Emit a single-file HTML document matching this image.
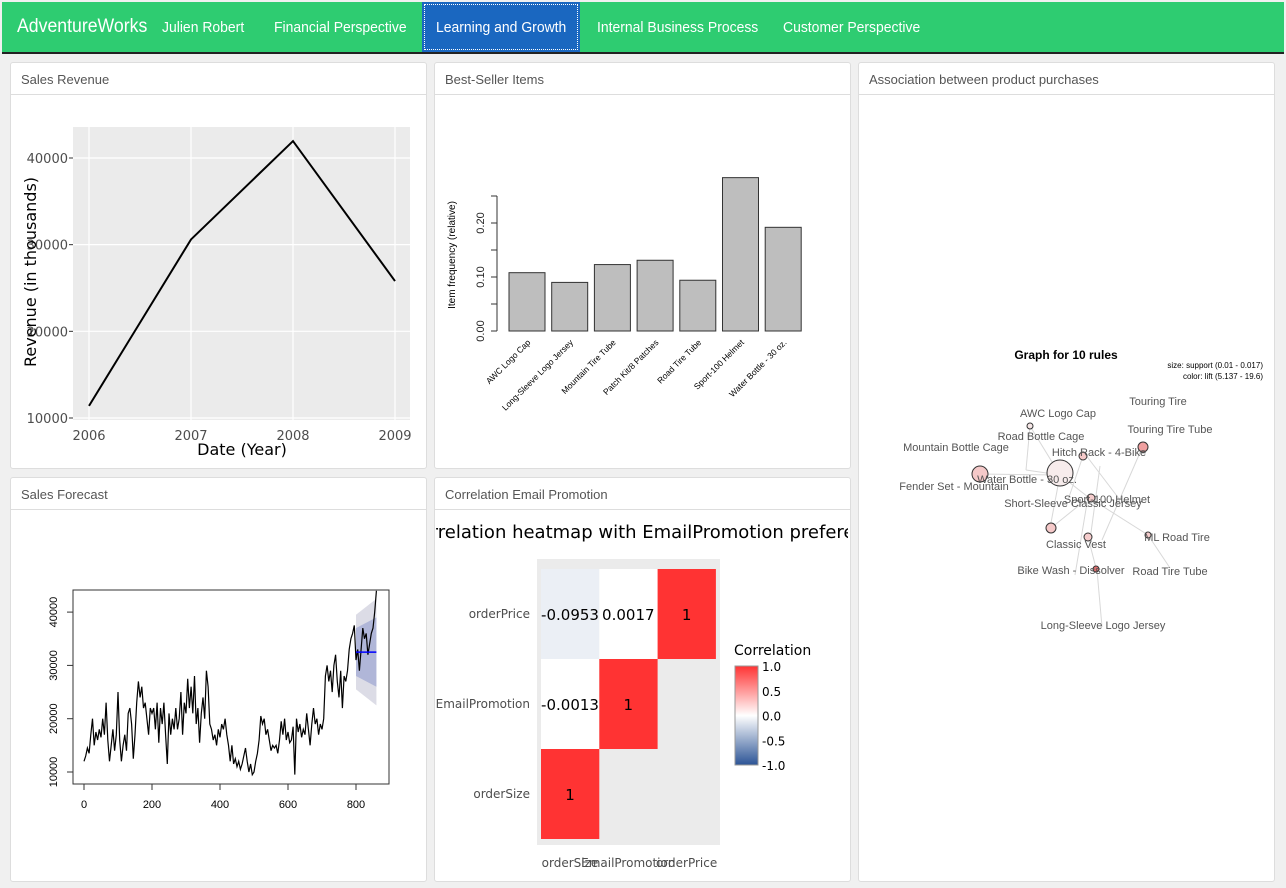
<!DOCTYPE html>
<html><head><meta charset="utf-8">
<style>
body{margin:0;width:1286px;height:888px;background:#f0f0f0;font-family:"Liberation Sans",sans-serif;position:relative;overflow:hidden}
.nav{position:absolute;left:2px;top:2px;width:1282px;height:50px;background:#2ecc71;border-bottom:2px solid #222}
.nav span{position:absolute;top:17px;color:#fff;font-size:15px;transform:scaleX(0.93);transform-origin:left;white-space:nowrap}
.panel{position:absolute;background:#fff;border:1px solid #ddd;border-radius:3px}
.ph{height:31px;border-bottom:1px solid #ddd;font-size:13px;color:#555;line-height:34px;padding-left:10px}
svg{position:absolute;left:0;top:0}
</style></head><body>
<div class="nav">
<span style="left:15px;top:14px;font-size:19px">AdventureWorks</span>
<span style="left:160px">Julien Robert</span>
<span style="left:272px">Financial Perspective</span>
<div style="position:absolute;left:420px;top:0;width:158px;height:50px;background:#1a67c0;outline:1px dotted #fff;outline-offset:-3px"></div>
<span style="left:434px">Learning and Growth</span>
<span style="left:595px">Internal Business Process</span>
<span style="left:781px">Customer Perspective</span>
</div>
<div class="panel" style="left:10px;top:62px;width:415px;height:405px"><div class="ph">Sales Revenue</div></div>
<div class="panel" style="left:434px;top:62px;width:415px;height:405px"><div class="ph">Best-Seller Items</div></div>
<div class="panel" style="left:858px;top:62px;width:415px;height:818px"><div class="ph">Association between product purchases</div></div>
<div class="panel" style="left:10px;top:477px;width:415px;height:403px"><div class="ph">Sales Forecast</div></div>
<div class="panel" style="left:434px;top:477px;width:415px;height:403px;overflow:hidden"><div class="ph">Correlation Email Promotion</div></div>
<svg id="s" width="1286" height="888" font-family="Liberation Sans, sans-serif"><defs><clipPath id="cp"><rect x="436" y="510" width="412" height="369"/></clipPath></defs></svg>
<script>
const revYears=[2006,2007,2008,2009];
const revValues=[11400,30600,41950,25800];
const revTicks=[10000,20000,30000,40000];
const barItems=["AWC Logo Cap","Long-Sleeve Logo Jersey","Mountain Tire Tube","Patch Kit/8 Patches","Road Tire Tube","Sport-100 Helmet","Water Bottle - 30 oz."];
const barValues=[0.108,0.090,0.123,0.131,0.094,0.284,0.192];
const barTickLabels=["0.00","0.10","0.20"];
const tsX=[0,5,10,15,20,25,30,35,40,45,50,55,60,65,70,75,80,85,90,95,100,105,110,115,120,125,130,135,140,145,150,155,160,165,170,175,180,185,190,195,200,205,210,215,220,225,230,235,240,245,250,255,260,265,270,275,280,285,290,295,300,305,310,315,320,325,330,335,340,345,350,355,360,365,370,375,380,385,390,395,400,405,410,415,420,425,430,435,440,445,450,455,460,465,470,475,480,485,490,495,500,505,510,515,520,525,530,535,540,545,550,555,560,565,570,575,580,585,590,595,600,605,610,615,620,625,630,635,640,645,650,655,660,665,670,675,680,685,690,695,700,705,710,715,720,725,730,735,740,745,750,755,760,765,770,775,780,785,790,795,800,805,810,815,820,825,830,835,840,845,850,855,860,865,870];
const tsValues=[12000,13000,14500,13500,17000,20000,15000,17500,16000,18000,16500,20000,17000,23000,16000,12000,15000,18000,14000,17000,25000,16000,12000,15000,17000,14000,21000,22000,19000,12500,17000,23000,27000,24000,26000,22000,23000,20000,17000,22000,21000,22000,18000,23000,15500,22000,19000,23000,17000,11500,21000,17000,20000,18000,22000,18000,20000,25000,17000,23000,21000,27500,22000,26000,21000,28000,19000,22000,15500,21000,24000,20000,29000,26000,19000,18000,16000,17000,15000,18000,16500,19000,18000,20000,17000,15000,12000,15000,11500,12500,11000,12000,10500,11500,13000,14500,12000,10000,11500,9500,10000,12000,13500,16000,20500,19000,20000,17000,18000,16000,14000,15000,14500,15000,13500,16000,19500,17000,20000,16000,17500,15500,16000,18500,9500,20000,17500,19000,16500,18000,17000,21000,18000,15000,19000,22000,19000,20000,17000,19000,18000,20000,28000,30000,27000,29000,25000,30000,32000,27000,24000,29000,22000,28000,27000,29000,33000,35000,36000,37500,31000,33000,29000,33000,37000,35000,36000,32000,34000,36000,37000,40000,44000];
const fcStart=800,fcEnd=860,fcMean=32500,fc80=[26000,39000],fc95=[22500,42500];
const corrVars=["orderSize","EmailPromotion","orderPrice"];
const corrValues=[[1,-0.0013,-0.0953],[-0.0013,1,0.0017],[-0.0953,0.0017,1]];
const corrLabels=[["1","-0.0013","-0.0953"],["-0.0013","1","0.0017"],["-0.0953","0.0017","1"]];
const corrTicks=["1.0","0.5","0.0","-0.5","-1.0"];
const S=document.getElementById('s');const NS='http://www.w3.org/2000/svg';
function el(t,a,p){const e=document.createElementNS(NS,t);for(const k in a)e.setAttribute(k,a[k]);(p||S).appendChild(e);return e}
function tx(x,y,s,a,p){const e=el('text',Object.assign({x:x,y:y},a),p);e.textContent=s;return e}
// Sales revenue
{const g=el('g',{});
const xs=v=>89+(v-2006)*102,ys=v=>418-(v-10000)*0.008667;
el('rect',{x:73,y:127,width:337,height:293,fill:'#ebebeb'},g);
revTicks.forEach(t=>{const l=el('line',{x1:73,x2:410,y1:ys(t),y2:ys(t),stroke:'#fff','stroke-width':1.2},g);
tx(68,ys(t)+5,String(t),{'text-anchor':'end','font-size':13,fill:'#4d4d4d','font-family':'DejaVu Sans'},g);el('line',{x1:69,x2:73,y1:ys(t),y2:ys(t),stroke:'#333'},g)});
revYears.forEach(y=>{el('line',{x1:xs(y),x2:xs(y),y1:127,y2:420,stroke:'#fff','stroke-width':1.2},g);const t=tx(xs(y),440,String(y),{'text-anchor':'middle','font-size':13,fill:'#4d4d4d','font-family':'DejaVu Sans'},g);});
const p=el('polyline',{points:revYears.map((y,i)=>xs(y)+','+ys(revValues[i])).join(' '),fill:'none',stroke:'#000','stroke-width':2},g);
tx(242,455,'Date (Year)',{'text-anchor':'middle','font-size':16,'font-family':'DejaVu Sans'},g);
tx(36,272,'Revenue (in thousands)',{'text-anchor':'middle','font-size':16,'font-family':'DejaVu Sans',transform:'rotate(-90 36 272)'},g);}
// Bar chart
{const g=el('g',{});
const ys=v=>331-v*540;
[0,0.05,0.1,0.15,0.2,0.25].forEach(t=>el('line',{x1:491,x2:497,y1:ys(t),y2:ys(t),stroke:'#333'},g));
el('line',{x1:497,x2:497,y1:ys(0),y2:ys(0.25),stroke:'#333'},g);
barTickLabels.forEach((s,i)=>{const t=tx(484,ys(i*0.1),s,{'text-anchor':'middle','font-size':11,fill:'#222',transform:'rotate(-90 484 '+ys(i*0.1)+')'},g);});
tx(455,255,'Item frequency (relative)',{'text-anchor':'middle','font-size':10,transform:'rotate(-90 455 255)'},g);
barValues.forEach((v,i)=>{const x=509+i*42.7;const r=el('rect',{x:x,y:ys(v),width:36,height:v*540,fill:'#bebebe',stroke:'#333'},g);
const t=tx(x+22,343,barItems[i],{'text-anchor':'end','font-size':8.5,transform:'rotate(-45 '+(x+22)+' 343)'},g);});}
// Forecast
{const g=el('g',{});
const xs=v=>84+v*0.34,ys=v=>772-(v-10000)*0.00533;
const poly=(a)=>a.map(q=>xs(q[0])+','+ys(q[1])).join(' ');
const b95=el('polygon',{points:poly([[fcStart,fc95[1]-3000],[fcEnd,fc95[1]],[fcEnd,fc95[0]],[fcStart,fc95[0]+3000]]),fill:'#dcdce6'},g);
const b80=el('polygon',{points:poly([[fcStart,fc80[1]-2000],[fcEnd,fc80[1]],[fcEnd,fc80[0]],[fcStart,fc80[0]+2000]]),fill:'#b0b6d8'},g);
const l=el('polyline',{points:tsX.map((x,i)=>xs(x)+','+ys(tsValues[i])).join(' '),fill:'none',stroke:'#000','stroke-width':1.2},g);
const m=el('line',{x1:xs(fcStart),x2:xs(fcEnd),y1:ys(fcMean),y2:ys(fcMean),stroke:'#00f','stroke-width':1.5},g);
el('rect',{x:73,y:590,width:316,height:194,fill:'none',stroke:'#333'},g);
[0,200,400,600,800].forEach(t=>{el('line',{x1:xs(t),x2:xs(t),y1:784,y2:790,stroke:'#333'},g);tx(xs(t),808,String(t),{'text-anchor':'middle','font-size':11},g)});
[10000,20000,30000,40000].forEach(t=>{el('line',{x1:67,x2:73,y1:ys(t),y2:ys(t),stroke:'#333'},g);tx(57,ys(t),String(t),{'text-anchor':'middle','font-size':11,transform:'rotate(-90 57 '+ys(t)+')'},g)});}
// Heatmap
{const g=el('g',{'clip-path':'url(#cp)'});
tx(647,538,'Correlation heatmap with EmailPromotion preference',{'text-anchor':'middle','font-size':18,'font-family':'DejaVu Sans'},g);
el('rect',{x:537,y:559,width:183,height:286,fill:'#ebebeb'},g);
function col(v){if(v>=0){const t=v;return 'rgb(255,'+Math.round(255-t*204)+','+Math.round(255-t*204)+')'}const t=-v;return 'rgb('+Math.round(255-t*211)+','+Math.round(255-t*171)+','+Math.round(255-t*105)+')'}
for(let r=0;r<3;r++)for(let c=0;c<3;c++){if(c>r)continue;const x=541+c*58.3,y=749-r*90;
const e=el('rect',{x:x,y:y,width:58.3,height:90,fill:col(corrValues[c][r])},g);
const t=tx(x+29,y+51,corrLabels[c][r],{'text-anchor':'middle','font-size':15,'font-family':'DejaVu Sans'},g);}
corrVars.forEach((v,i)=>{tx(570+i*58.3,867,v,{'text-anchor':'middle','font-size':12,fill:'#4d4d4d','font-family':'DejaVu Sans'},g);
tx(530,798-i*90,v,{'text-anchor':'end','font-size':12,fill:'#4d4d4d','font-family':'DejaVu Sans'},g)});
const gd=el('linearGradient',{id:'gd',x1:0,y1:0,x2:0,y2:1});[['0','#ff3333'],['0.5','#fff'],['1','#2c5496']].forEach(s=>el('stop',{offset:s[0],'stop-color':s[1]},gd));
tx(734,655,'Correlation',{'font-size':14,'font-family':'DejaVu Sans'});
el('rect',{x:735,y:666,width:23,height:99,fill:'url(#gd)',stroke:'#999'});
corrTicks.forEach((s,i)=>{const y=666+i*24.75;tx(762,y+5,s,{'font-size':12,'font-family':'DejaVu Sans'})});}
// Network
{const g=el('g',{});
tx(1066,359,'Graph for 10 rules',{'text-anchor':'middle','font-size':12,'font-weight':'bold'},g);
tx(1263,368,'size: support (0.01 - 0.017)',{'text-anchor':'end','font-size':8},g);tx(1263,379,'color: lift (5.137 - 19.6)',{'text-anchor':'end','font-size':8},g);
const edges=[[1030,426,1060,475],[1030,426,1026,470],[1060,475,980,474],[1060,475,1088,497],[1083,456,1068,500],[1148,447,1142,448],[1142,448,1102,540],[1088,497,1148,535],[1148,535,1170,568],[1051,528,1082,503],[1088,537,1096,568],[1102,627,1097,570],[1075,575,1088,497],[1060,475,1050,528],[1026,470,1060,475],[1100,466,1090,540],[1120,500,1082,450]];
edges.forEach(e=>{const l=el('line',{x1:e[0],y1:e[1],x2:e[2],y2:e[3],stroke:'#d8d8d8'},g);});
[[1030,426,3,'#f7e8e8'],[980,474,8,'#f5c9c9'],[1060,473,13,'#f7ecec'],[1083,456,4,'#f5c9c9'],[1143,447,5,'#f0a0a0'],[1091,498,4,'#f5cccc'],[1051,528,5,'#f5c9c9'],[1088,537,4,'#f5cccc'],[1148,535,3,'#f5cccc'],[1096,569,3,'#e07070']].forEach(n=>{const c=el('circle',{cx:n[0],cy:n[1],r:n[2],fill:n[3],stroke:'#333'},g);});
[['AWC Logo Cap',1058,417],['Road Bottle Cage',1041,440],['Mountain Bottle Cage',956,451],['Touring Tire',1158,405],['Touring Tire Tube',1170,433],['Hitch Rack - 4-Bike',1099,456],['Water Bottle - 30 oz.',1027,483],['Fender Set - Mountain',954,490],['Sport-100 Helmet',1107,503],['Short-Sleeve Classic Jersey',1073,507],['Classic Vest',1076,548],['ML Road Tire',1177,541],['Bike Wash - Dissolver',1071,574],['Road Tire Tube',1170,575],['Long-Sleeve Logo Jersey',1103,629]].forEach(l=>{const t=tx(l[1],l[2],l[0],{'text-anchor':'middle','font-size':11,fill:'#555'},g);});}
</script>
</body></html>
